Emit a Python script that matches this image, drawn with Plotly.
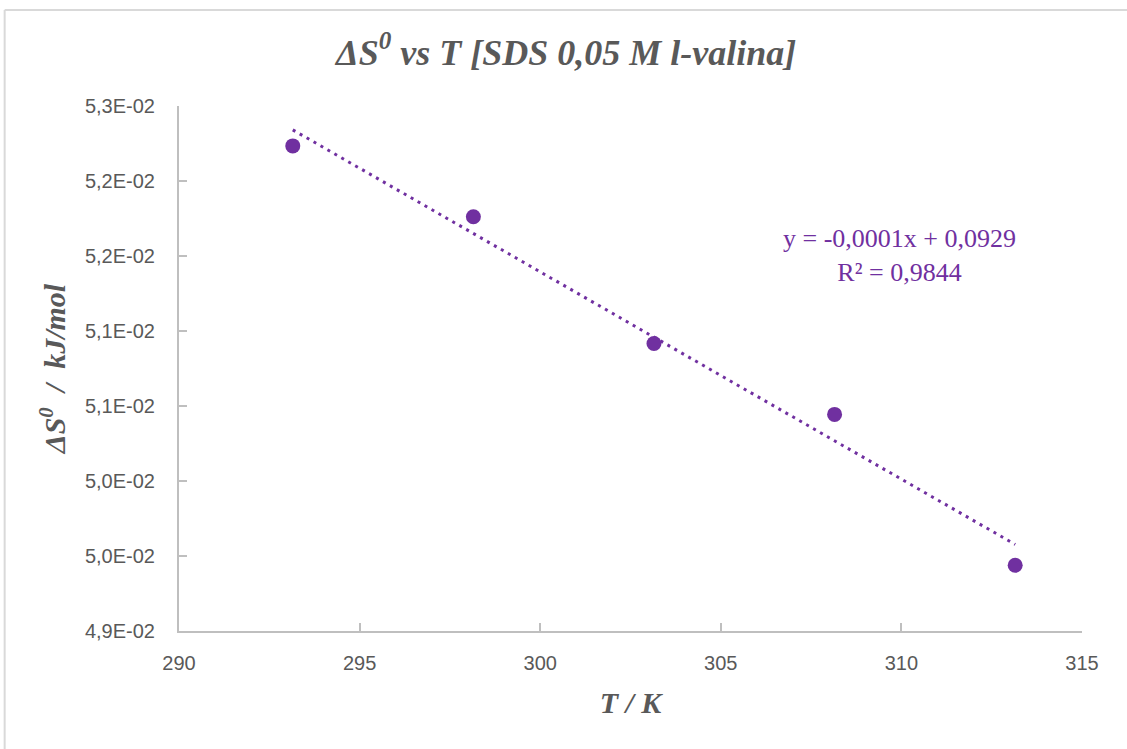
import numpy as np
import plotly.graph_objects as go

# Data
temperature_K = [293.15, 298.15, 303.15, 308.15, 313.15]
delta_S = [0.052734, 0.052262, 0.051417, 0.050944, 0.049938]

y_tickvals = [0.0495, 0.0500, 0.0505, 0.0510, 0.0515, 0.0520, 0.0525, 0.0530]
y_ticktext = ["4,9E-02", "5,0E-02", "5,0E-02", "5,1E-02", "5,1E-02", "5,2E-02", "5,2E-02", "5,3E-02"]
x_tickvals = [290, 295, 300, 305, 310, 315]

equation_text = "y = -0,0001x + 0,0929<br>R² = 0,9844"

PURPLE = "#7030A0"
GRAY = "#595959"
AXIS = "#BFBFBF"

# linear trendline (least squares)
slope, intercept = np.polyfit(temperature_K, delta_S, 1)
x_fit = np.array([min(temperature_K), max(temperature_K)])
y_fit = slope * x_fit + intercept

fig = go.Figure()
fig.add_trace(go.Scatter(
    x=x_fit, y=y_fit, mode="lines",
    line=dict(color=PURPLE, width=3, dash="3px,5px"),
    hoverinfo="skip", showlegend=False,
))
fig.add_trace(go.Scatter(
    x=temperature_K, y=delta_S, mode="markers",
    marker=dict(color=PURPLE, size=15, line=dict(width=0)),
    showlegend=False,
))

W, H = 1127, 749
L, R, T, B = 178.5, 1127 - 1082.3, 106, 749 - 630.7
pw = W - L - R
ph = H - T - B

fig.update_layout(
    width=W, height=H,
    margin=dict(l=L, r=R, t=T, b=B, pad=0),
    paper_bgcolor="white", plot_bgcolor="white",
    title=dict(
        text="<b><i>ΔS<sup>0</sup> vs T [SDS 0,05 M l-valina]</i></b>",
        x=(566 - L) / pw, xref="paper", xanchor="center",
        y=1 - 52 / H, yref="container", yanchor="middle",
        font=dict(family="Liberation Serif", size=36, color=GRAY),
    ),
    xaxis=dict(
        range=[290, 315], tickvals=x_tickvals,
        showgrid=False, zeroline=False,
        showline=True, linecolor=AXIS, linewidth=2,
        ticks="inside", ticklen=8, tickcolor=AXIS, tickwidth=2,
        tickfont=dict(family="Liberation Sans", size=20, color=GRAY),
        ticklabelstandoff=13,
        title=dict(text="<b><i>T / K</i></b>", standoff=19,
                   font=dict(family="Liberation Serif", size=30, color=GRAY)),
    ),
    yaxis=dict(
        range=[0.0495, 0.0530], tickvals=y_tickvals, ticktext=y_ticktext,
        showgrid=False, zeroline=False,
        showline=True, linecolor=AXIS, linewidth=2,
        ticks="inside", ticklen=8, tickcolor=AXIS, tickwidth=2,
        tickfont=dict(family="Liberation Sans", size=20, color=GRAY),
        ticklabelstandoff=18,
        title=dict(text="<b><i>ΔS<sup>0</sup>  /  kJ/mol</i></b>", standoff=10,
                   font=dict(family="Liberation Serif", size=30, color=GRAY)),
    ),
    annotations=[dict(
        text=equation_text, x=(900 - L) / pw, y=1 - (255 - T) / ph,
        xref="paper", yref="paper", xanchor="center", yanchor="middle",
        showarrow=False, align="center",
        font=dict(family="Liberation Serif", size=26, color=PURPLE),
    )],
    shapes=[
        dict(type="line", xref="paper", yref="paper",
             x0=(4 - L) / pw, x1=(1135 - L) / pw,
             y0=1 + (T - 10) / ph, y1=1 + (T - 10) / ph,
             line=dict(color="#D9D9D9", width=2)),
        dict(type="line", xref="paper", yref="paper",
             x0=(4 - L) / pw, x1=(4 - L) / pw,
             y0=1 + (T - 10) / ph, y1=-(B + 10) / ph,
             line=dict(color="#D9D9D9", width=2)),
    ],
)

fig.write_html("out.html")
